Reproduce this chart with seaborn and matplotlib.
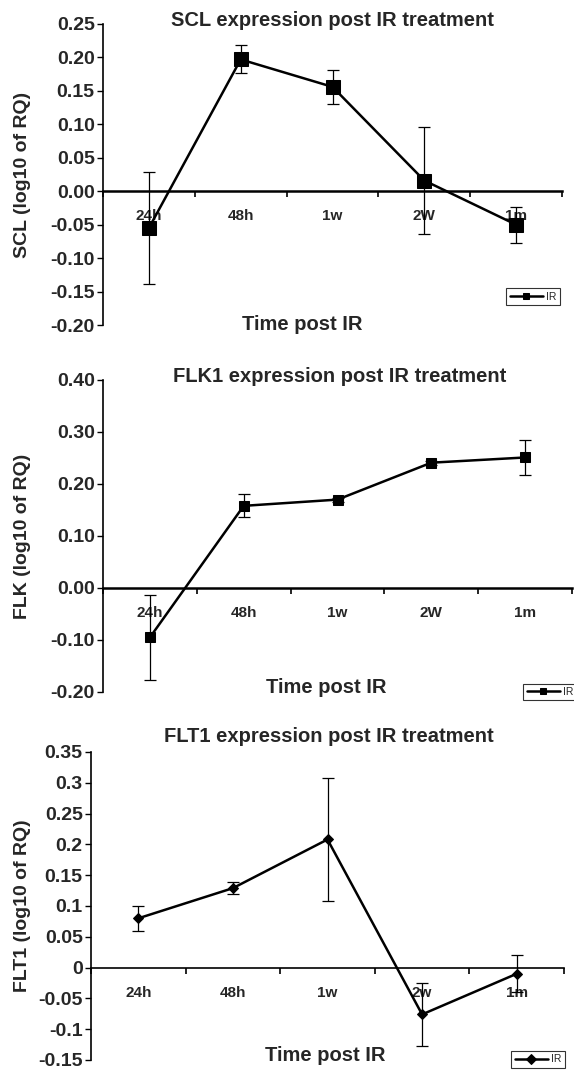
import numpy as np
import seaborn as sns
import matplotlib
matplotlib.use('Agg')
import matplotlib.pyplot as plt
from matplotlib.ticker import FixedLocator

# ---------------------------------------------------------------
# data
# ---------------------------------------------------------------
cats_scl = ['24h', '48h', '1w', '2W', '1m']
cats_flk = ['24h', '48h', '1w', '2W', '1m']
cats_flt = ['24h', '48h', '1w', '2w', '1m']

scl = [-0.055, 0.197, 0.156, 0.016, -0.050]
scl_err = [0.084, 0.021, 0.025, 0.080, 0.027]

flk = [-0.095, 0.158, 0.170, 0.241, 0.251]
flk_err = [0.081, 0.022, 0.004, 0.004, 0.033]

flt = [0.080, 0.129, 0.208, -0.076, -0.010]
flt_err = [0.020, 0.010, 0.100, 0.051, 0.030]

scl_yticks = [-0.20, -0.15, -0.10, -0.05, 0.00, 0.05, 0.10, 0.15, 0.20, 0.25]
flk_yticks = [-0.20, -0.10, 0.00, 0.10, 0.20, 0.30, 0.40]
flt_yticks = [-0.15, -0.1, -0.05, 0, 0.05, 0.1, 0.15, 0.2, 0.25, 0.3, 0.35]
flt_ylabels = ['-0.15', '-0.1', '-0.05', '0', '0.05', '0.1', '0.15', '0.2', '0.25', '0.3', '0.35']

sns.set_theme(style='ticks')
plt.rcParams['font.family'] = ['Liberation Sans', 'DejaVu Sans']
plt.rcParams['font.weight'] = 'bold'

W, H = 574, 1075
fig = plt.figure(figsize=(W / 100, H / 100), dpi=100)


def px_axes(left, right, top, bottom):
    return fig.add_axes([left / W, 1 - bottom / H, (right - left) / W, (bottom - top) / H])


def panel(ax, cats, vals, errs, yticks, ylabels, marker, msize, title, ylabel,
          title_xy, xlab_xy, ylab_x, leg_xy, zero_lw):
    pos = np.arange(len(cats))
    ax.errorbar(pos, vals, yerr=errs, fmt='none', ecolor='black',
                elinewidth=0.9, capsize=4, capthick=0.9, zorder=3)
    sns.lineplot(x=pos, y=vals, marker=marker, markersize=msize, color='black',
                 markeredgecolor='black', linewidth=1.8, label='IR', ax=ax, zorder=4)

    ax.set_xlim(-0.5, len(cats) - 0.5)
    ax.set_ylim(yticks[0], yticks[-1])
    ax.set_yticks(yticks)
    ax.set_yticklabels(ylabels, fontsize=14, fontweight='bold')
    ax.tick_params(axis='y', length=4, width=1, pad=2, color='black')

    ax.set_xticks(pos)
    ax.set_xticklabels(cats, fontsize=11.5, fontweight='bold')
    ax.xaxis.set_minor_locator(FixedLocator(np.arange(len(cats) + 1) - 0.5))
    ax.tick_params(axis='x', which='major', length=0, pad=13)
    ax.tick_params(axis='x', which='minor', length=4, width=1.2, direction='out', color='black')

    for s in ['top', 'right']:
        ax.spines[s].set_visible(False)
    ax.spines['bottom'].set_position(('data', 0))
    ax.spines['bottom'].set_linewidth(zero_lw)
    ax.spines['bottom'].set_color('black')
    ax.spines['left'].set_linewidth(1.2)
    ax.spines['left'].set_color('black')

    ax.set_title(title, x=title_xy[0], y=title_xy[1], va='center', pad=0,
                 fontsize=14.5, fontweight='bold')
    ax.set_xlabel('Time post IR', fontsize=14.5, fontweight='bold')
    ax.xaxis.set_label_coords(*xlab_xy)
    ax.xaxis.label.set_verticalalignment('center')
    ax.set_ylabel(ylabel, fontsize=14, fontweight='bold')
    ax.yaxis.set_label_coords(ylab_x, 0.5)

    leg = ax.legend(loc='center', bbox_to_anchor=(leg_xy[0] / W, 1 - leg_xy[1] / H),
                    bbox_transform=fig.transFigure, fontsize=7.5, frameon=True,
                    fancybox=False, handlelength=3.2, borderpad=0.3,
                    handletextpad=0.3, borderaxespad=0, markerscale=5.0 / msize)
    leg.get_frame().set_edgecolor('black')
    leg.get_frame().set_linewidth(0.8)
    for t in leg.get_texts():
        t.set_fontweight('normal')


ax1 = px_axes(103, 562, 24, 325)
panel(ax1, cats_scl, scl, scl_err, scl_yticks, ['%.2f' % v for v in scl_yticks],
      's', 10, 'SCL expression post IR treatment', 'SCL (log10 of RQ)',
      (0.5, 1.013), (0.434, 0.0), -(103 - 31) / 459, (533, 296.5), 1.8)

ax2 = px_axes(103, 572, 380, 692)
panel(ax2, cats_flk, flk, flk_err, flk_yticks, ['%.2f' % v for v in flk_yticks],
      's', 6.5, 'FLK1 expression post IR treatment', 'FLK (log10 of RQ)',
      (0.505, 1.01), (0.475, 0.013), -(103 - 31) / 469, (550, 692), 1.8)

ax3 = px_axes(91, 564, 752, 1060)
panel(ax3, cats_flt, flt, flt_err, flt_yticks, flt_ylabels,
      'D', 5, 'FLT1 expression post IR treatment', 'FLT1 (log10 of RQ)',
      (0.503, 1.049), (0.495, 0.016), -(91 - 31) / 473, (538, 1059.5), 1.2)

fig.savefig('out.png', dpi=100)
